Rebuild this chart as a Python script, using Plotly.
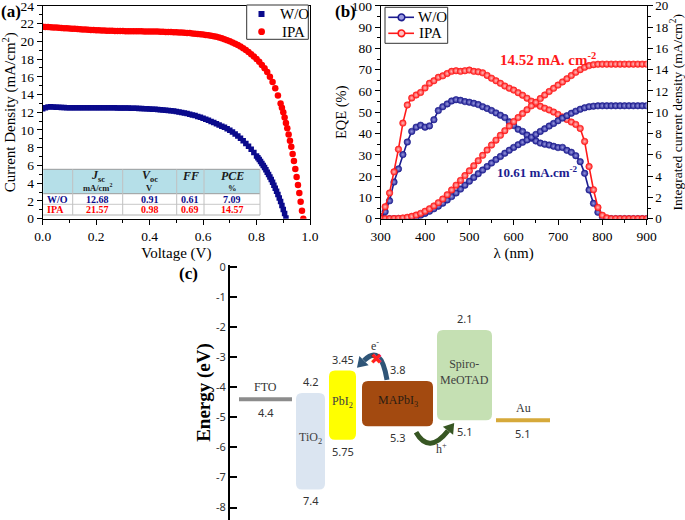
import math
import plotly.graph_objects as go

W, H = 685, 520


def px(x):
    return x / W


def py(y):
    return 1 - y / H


SERIF = "Liberation Serif"
SANS = "Noto Sans"

# ---------------- (a) J-V data ----------------
v_wo = [0.00, 0.01, 0.02, 0.03, 0.04, 0.05, 0.06, 0.07, 0.08, 0.09,
        0.10, 0.11, 0.12, 0.13, 0.14, 0.15, 0.16, 0.17, 0.18, 0.19,
        0.20, 0.21, 0.22, 0.23, 0.24, 0.25, 0.26, 0.27, 0.28, 0.29,
        0.30, 0.31, 0.32, 0.33, 0.34, 0.35, 0.36, 0.37, 0.38, 0.39,
        0.40, 0.41, 0.42, 0.43, 0.44, 0.45, 0.46, 0.47, 0.48, 0.49,
        0.50, 0.51, 0.52, 0.53, 0.54, 0.55, 0.56, 0.57, 0.58, 0.59,
        0.60, 0.61, 0.62, 0.63, 0.64, 0.65, 0.66, 0.67, 0.68, 0.69,
        0.70, 0.71, 0.72, 0.73, 0.74, 0.75, 0.76, 0.77, 0.78, 0.79,
        0.80, 0.805, 0.81, 0.815, 0.82, 0.825, 0.83, 0.835, 0.84, 0.845,
        0.85, 0.855, 0.86, 0.865, 0.87, 0.875, 0.88, 0.885, 0.89, 0.895,
        0.90, 0.905, 0.91]
j_wo = [12.40, 12.50, 12.58, 12.62, 12.60, 12.57, 12.55, 12.54, 12.53, 12.52,
        12.52, 12.52, 12.51, 12.51, 12.51, 12.50, 12.50, 12.50, 12.50, 12.50,
        12.50, 12.50, 12.50, 12.50, 12.50, 12.50, 12.50, 12.50, 12.49, 12.49,
        12.49, 12.48, 12.47, 12.46, 12.45, 12.44, 12.43, 12.42, 12.40, 12.39,
        12.37, 12.35, 12.33, 12.31, 12.29, 12.26, 12.23, 12.20, 12.17, 12.13,
        12.08, 12.03, 11.97, 11.91, 11.85, 11.78, 11.70, 11.62, 11.53, 11.43,
        11.33, 11.22, 11.10, 10.97, 10.84, 10.70, 10.56, 10.43, 10.30, 10.15,
        9.98, 9.78, 9.56, 9.32, 9.06, 8.78, 8.48, 8.16, 7.82, 7.46,
        7.08, 6.88, 6.67, 6.45, 6.23, 6.00, 5.76, 5.51, 5.25, 4.98,
        4.70, 4.41, 4.10, 3.78, 3.44, 3.09, 2.72, 2.33, 1.93, 1.50,
        1.05, 0.58, 0.08]

v_ipa = [0.00, 0.01, 0.02, 0.03, 0.04, 0.05, 0.06, 0.07, 0.08, 0.09,
         0.10, 0.11, 0.12, 0.13, 0.14, 0.15, 0.16, 0.17, 0.18, 0.19,
         0.20, 0.21, 0.22, 0.23, 0.24, 0.25, 0.26, 0.27, 0.28, 0.29,
         0.30, 0.31, 0.32, 0.33, 0.34, 0.35, 0.36, 0.37, 0.38, 0.39,
         0.40, 0.41, 0.42, 0.43, 0.44, 0.45, 0.46, 0.47, 0.48, 0.49,
         0.50, 0.51, 0.52, 0.53, 0.54, 0.55, 0.56, 0.57, 0.58, 0.59,
         0.60, 0.61, 0.62, 0.63, 0.64, 0.65, 0.66, 0.67, 0.68, 0.69,
         0.70, 0.71, 0.72, 0.73, 0.74, 0.75, 0.76, 0.77, 0.78, 0.79,
         0.80, 0.81, 0.82, 0.83, 0.84, 0.85, 0.86, 0.87, 0.88, 0.89,
         0.895, 0.900, 0.905, 0.910, 0.915, 0.920, 0.925, 0.930, 0.935,
         0.940, 0.945, 0.950, 0.955, 0.960, 0.965, 0.970, 0.975]
j_ipa = [21.64, 21.62, 21.60, 21.58, 21.56, 21.54, 21.52, 21.50, 21.48, 21.46,
         21.44, 21.42, 21.40, 21.38, 21.36, 21.34, 21.32, 21.30, 21.28, 21.27,
         21.25, 21.24, 21.22, 21.21, 21.20, 21.19, 21.18, 21.17, 21.16, 21.15,
         21.15, 21.14, 21.14, 21.13, 21.13, 21.12, 21.12, 21.12, 21.11, 21.11,
         21.10, 21.10, 21.09, 21.09, 21.08, 21.07, 21.06, 21.05, 21.04, 21.03,
         21.02, 21.00, 20.98, 20.96, 20.94, 20.92, 20.89, 20.86, 20.83, 20.80,
         20.76, 20.72, 20.68, 20.63, 20.57, 20.50, 20.42, 20.33, 20.23, 20.12,
         20.00, 19.87, 19.73, 19.57, 19.40, 19.21, 19.01, 18.79, 18.55, 18.29,
         18.00, 17.68, 17.33, 16.95, 16.53, 16.00, 15.40, 14.70, 13.90, 13.00,
         12.50, 12.00, 11.40, 10.80, 10.20, 9.50, 8.80, 8.10, 7.30,
         6.50, 5.60, 4.70, 3.80, 2.90, 1.90, 0.90, 0.00]

# table of photovoltaic parameters
tab_params = ["<i>J</i><sub>sc</sub>", "<i>V</i><sub>oc</sub>", "<i>FF</i>", "<i>PCE</i>"]
tab_units = ["mA/cm<sup>2</sup>", "V", "", "%"]
tab_rows = ["W/O", "IPA"]
tab_wo = ["12.68", "0.91", "0.61", "7.09"]
tab_ipa = ["21.57", "0.98", "0.69", "14.57"]

# ---------------- (b) EQE data ----------------
wl = [300, 310, 320, 330, 340, 350, 360, 370, 380, 390,
      400, 410, 420, 430, 440, 450, 460, 470, 480, 490,
      500, 510, 520, 530, 540, 550, 560, 570, 580, 590,
      600, 610, 620, 630, 640, 650, 660, 670, 680, 690,
      700, 710, 720, 730, 740, 750, 760, 770, 780, 790,
      800, 810, 820, 830, 840, 850, 860, 870, 880, 890, 900]
eqe_wo = [1.0, 3.3, 8.4, 17.2, 23.4, 30.1, 36.0, 41.0, 43.0, 43.9,
          43.0, 43.6, 46.5, 50.8, 52.6, 53.9, 55.3, 55.9, 55.6, 55.0,
          54.7, 54.2, 53.6, 52.6, 51.8, 50.8, 49.7, 48.6, 47.5, 45.5,
          43.8, 42.0, 41.0, 39.3, 37.8, 36.5, 35.5, 35.0, 34.6, 34.0,
          33.4, 33.5, 32.1, 31.2, 29.6, 26.8, 21.3, 13.5, 7.2, 3.0,
          0.8, 0.1, 0.0, 0.0, 0.0, 0.0, 0.0, 0.0, 0.0, 0.0, 0.0]
eqe_ipa = [0.5, 5.6, 12.1, 22.0, 32.6, 44.9, 53.4, 56.7, 58.1, 59.3,
           61.4, 63.6, 64.8, 66.4, 67.1, 68.2, 69.2, 69.5, 69.2, 69.5,
           69.8, 69.2, 69.0, 68.5, 67.3, 66.0, 64.8, 63.6, 62.3, 61.3,
           60.4, 59.2, 58.0, 56.6, 55.2, 53.9, 52.8, 51.9, 51.1, 50.1,
           49.0, 47.8, 46.6, 45.4, 44.3, 42.4, 36.3, 24.5, 13.6, 5.3,
           1.6, 0.4, 0.0, 0.0, 0.0, 0.0, 0.0, 0.0, 0.0, 0.0, 0.0]
jint_wo = [0.0, 0.0, 0.0, 0.0, 0.0, 0.0, 0.01, 0.06, 0.17, 0.32,
           0.50, 0.70, 0.93, 1.18, 1.46, 1.76, 2.08, 2.42, 2.78, 3.15,
           3.52, 3.88, 4.23, 4.57, 4.90, 5.23, 5.55, 5.85, 6.15, 6.43,
           6.70, 6.95, 7.18, 7.40, 7.66, 7.92, 8.20, 8.45, 8.70, 8.95,
           9.20, 9.45, 9.68, 9.90, 10.10, 10.28, 10.42, 10.52, 10.57, 10.60,
           10.61, 10.61, 10.61, 10.61, 10.61, 10.61, 10.61, 10.61, 10.61, 10.61, 10.61]
jint_ipa = [0.0, 0.0, 0.0, 0.01, 0.03, 0.07, 0.13, 0.22, 0.34, 0.50,
            0.70, 0.93, 1.20, 1.50, 1.85, 2.25, 2.70, 3.15, 3.60, 4.05,
            4.50, 4.97, 5.45, 5.95, 6.45, 6.92, 7.38, 7.83, 8.27, 8.70,
            9.12, 9.50, 9.88, 10.24, 10.60, 10.93, 11.28, 11.62, 11.95, 12.25,
            12.55, 12.85, 13.15, 13.45, 13.75, 14.00, 14.22, 14.38, 14.47, 14.51,
            14.52, 14.52, 14.52, 14.52, 14.52, 14.52, 14.52, 14.52, 14.52, 14.52, 14.52]
jint_label_ipa = "14.52 mA. cm<sup>-2</sup>"
jint_label_wo = "10.61 mA.cm<sup>-2</sup>"
series_names = ["W/O", "IPA"]

# ---------------- (c) energy levels (eV below vacuum) ----------------
layers = ["FTO", "TiO<sub>2</sub>", "PbI<sub>2</sub>", "MAPbI<sub>3</sub>", "Spiro-<br>MeOTAD", "Au"]
level_top = [4.4, 4.2, 3.45, 3.8, 2.1, 5.1]
level_bot = [4.4, 7.4, 5.75, 5.3, 5.1, 5.1]
is_electrode = [True, False, False, False, False, True]
energy_ticks = [0, -1, -2, -3, -4, -5, -6, -7, -8]
energy_ticktext = ["0", "-1", "-2", "-3", "-4", "-5", "-6", "-7", "-8"]

# layout-only positions / styles for diagram (c)
blk_x0 = [9, 66, 99, 132, 207, 266]
blk_x1 = [62, 95, 126, 203, 262, 320]
blk_color = ["#8c8c8c", "#dbe5f1", "#ffff00", "#a34a10", "#c5e0b3", "#d6a93a"]
blk_text_color = ["#333333", "#404040", "#404040", "#2b1d12", "#404040", "#333333"]

BLUE_A = "#0a0a8c"
RED_A = "#ff0000"
BLUE_B = "#1c1c8f"
RED_B = "#ff1a1a"
BLUE_C = "#9a9ae0"
RED_C = "#ffc0c0"

fig = go.Figure()

# ---- (a) traces
fig.add_trace(go.Scatter(x=v_wo, y=j_wo, mode="markers", name=series_names[0], showlegend=False,
                         marker=dict(symbol="square", size=5.5, color=BLUE_A),
                         xaxis="x", yaxis="y"))
fig.add_trace(go.Scatter(x=v_ipa, y=j_ipa, mode="markers", name=series_names[1], showlegend=False,
                         marker=dict(symbol="circle", size=6.5, color=RED_A),
                         xaxis="x", yaxis="y"))


# ---- (b) traces
def mk(color, center):
    return dict(symbol="circle", size=6.5, color=color,
                gradient=dict(type="radial", color=center),
                line=dict(width=0.6, color=color))


fig.add_trace(go.Scatter(x=wl, y=eqe_wo, mode="lines+markers", name=series_names[0], showlegend=False,
                         line=dict(color=BLUE_B, width=1.6), marker=mk(BLUE_B, BLUE_C),
                         xaxis="x2", yaxis="y2"))
fig.add_trace(go.Scatter(x=wl, y=eqe_ipa, mode="lines+markers", name=series_names[1], showlegend=False,
                         line=dict(color=RED_B, width=1.6), marker=mk(RED_B, RED_C),
                         xaxis="x2", yaxis="y2"))
fig.add_trace(go.Scatter(x=wl, y=jint_wo, mode="lines+markers", name=series_names[0], showlegend=False,
                         line=dict(color=BLUE_B, width=1.6), marker=mk(BLUE_B, BLUE_C),
                         xaxis="x2", yaxis="y3"))
fig.add_trace(go.Scatter(x=wl, y=jint_ipa, mode="lines+markers", name=series_names[1], showlegend=False,
                         line=dict(color=RED_B, width=1.6), marker=mk(RED_B, RED_C),
                         xaxis="x2", yaxis="y3"))

tickfont = dict(family=SERIF, size=13.5, color="black")
titlefont = dict(family=SERIF, size=15, color="black")
base = dict(showline=True, linecolor="black", linewidth=1, ticks="outside", ticklen=5,
            tickwidth=1, tickcolor="black", showgrid=False, zeroline=False, tickfont=tickfont,
            automargin=False, ticklabeloverflow="allow")

shapes = []
annotations = []


def note(x, y, text, font, xanchor="center", yanchor="middle", xref="paper", yref="paper", **kw):
    annotations.append(dict(xref=xref, yref=yref, x=x, y=y, text=text, showarrow=False,
                            xanchor=xanchor, yanchor=yanchor, font=font, **kw))


# ---- (a) table drawn from table arrays
tc = [43.3, 72.7, 122.7, 176.7, 204, 260]
tr = [169.3, 181.5, 193.7, 204.3, 215]
shapes.append(dict(type="rect", xref="paper", yref="paper", x0=px(tc[0]), x1=px(tc[-1]),
                   y0=py(tr[2]), y1=py(tr[0]), fillcolor="#b5dfe8", line=dict(width=0), layer="above"))
shapes.append(dict(type="rect", xref="paper", yref="paper", x0=px(tc[0]), x1=px(tc[-1]),
                   y0=py(tr[4]), y1=py(tr[2]), fillcolor="white", line=dict(width=0), layer="above"))
for yy, col in [(tr[0], "#9a9a9a"), (tr[2], "#9a9a9a"), (tr[3], "#c8c8c8"), (tr[4], "#b0b0b0")]:
    shapes.append(dict(type="line", xref="paper", yref="paper", x0=px(tc[0]), x1=px(tc[-1]),
                       y0=py(yy), y1=py(yy), line=dict(color=col, width=1), layer="above"))
for xx in tc[1:]:
    shapes.append(dict(type="line", xref="paper", yref="paper", x0=px(xx), x1=px(xx),
                       y0=py(tr[4]), y1=py(tr[0]), line=dict(color="#c0c0c0", width=1), layer="above"))

for i in range(4):
    xc = (tc[i + 1] + tc[i + 2]) / 2
    note(px(xc), py(175.5), "<b>" + tab_params[i] + "</b>", dict(family=SERIF, size=12, color="#1a1a1a"))
    if tab_units[i]:
        note(px(xc), py(187.5), "<b>" + tab_units[i] + "</b>", dict(family=SERIF, size=8.5, color="#1a1a1a"))
    note(px(xc), py(199), "<b>" + tab_wo[i] + "</b>", dict(family=SERIF, size=10, color=BLUE_A))
    note(px(xc), py(209.7), "<b>" + tab_ipa[i] + "</b>", dict(family=SERIF, size=10, color=RED_A))
note(px(44.5), py(199), "<b>" + tab_rows[0] + "</b>", dict(family=SERIF, size=10, color=BLUE_A), xanchor="left")
note(px(44.5), py(209.7), "<b>" + tab_rows[1] + "</b>", dict(family=SERIF, size=10, color=RED_A), xanchor="left")

# ---- (a) legend (manual)
shapes.append(dict(type="rect", xref="paper", yref="paper", x0=px(246.7), x1=px(308.3), y0=py(39.3), y1=py(5),
                   fillcolor="white", line=dict(color="#333333", width=1)))
shapes.append(dict(type="rect", xref="paper", yref="paper", x0=px(258.5), x1=px(264.5), y0=py(17), y1=py(11),
                   fillcolor=BLUE_A, line=dict(width=0)))
shapes.append(dict(type="circle", xref="paper", yref="paper", x0=px(258.2), x1=px(265.0), y0=py(35.1), y1=py(28.3),
                   fillcolor=RED_A, line=dict(width=0)))
note(px(278), py(14), series_names[0], dict(family=SERIF, size=15, color="black"), xanchor="left")
note(px(280), py(31.7), series_names[1], dict(family=SERIF, size=15, color="black"), xanchor="left")

# ---- (b) legend (manual)
shapes.append(dict(type="rect", xref="paper", yref="paper", x0=px(385), x1=px(447.7), y0=py(43.3), y1=py(7.3),
                   fillcolor="white", line=dict(color="#333333", width=1)))
for yy, colr, ccol in [(17.3, BLUE_B, BLUE_C), (33.3, RED_B, RED_C)]:
    shapes.append(dict(type="line", xref="paper", yref="paper", x0=px(388.3), x1=px(414), y0=py(yy), y1=py(yy),
                       line=dict(color=colr, width=1.6)))
    shapes.append(dict(type="circle", xref="paper", yref="paper", x0=px(398.2), x1=px(404.8),
                       y0=py(yy + 3.3), y1=py(yy - 3.3), fillcolor=ccol, line=dict(color=colr, width=1.6)))
note(px(416), py(17.3), series_names[0], dict(family=SERIF, size=15, color="black"), xanchor="left")
note(px(416.5), py(33.3), series_names[1], dict(family=SERIF, size=15, color="black"), xanchor="left")

# ---- (b) annotations
note(px(548), py(59), "<b>" + jint_label_ipa + "</b>", dict(family=SERIF, size=15, color=RED_B))
note(px(537), py(172), "<b>" + jint_label_wo + "</b>", dict(family=SERIF, size=13, color=BLUE_B))

# panel labels
for lab, xx, yy in [("(a)", 11, 11), ("(b)", 345, 11), ("(c)", 188, 273)]:
    note(px(xx), py(yy), "<b>" + lab + "</b>", dict(family=SERIF, size=17, color="black"))

# ---- (c) energy diagram
K = 30.1  # px per eV on yaxis4
R = 6


def rrect(x0, x1, ytop, ybot, r=R):
    ry = r / K
    return (f"M {x0 + r},{ytop} L {x1 - r},{ytop} Q {x1},{ytop} {x1},{ytop - ry} "
            f"L {x1},{ybot + ry} Q {x1},{ybot} {x1 - r},{ybot} L {x0 + r},{ybot} "
            f"Q {x0},{ybot} {x0},{ybot + ry} L {x0},{ytop - ry} Q {x0},{ytop} {x0 + r},{ytop} Z")


num_font = dict(family=SANS, size=11, color="#333333")
name_font = dict(family=SERIF, size=12, color="#333333")
for i, name in enumerate(layers):
    x0, x1 = blk_x0[i], blk_x1[i]
    xc = (x0 + x1) / 2
    top, bot = -level_top[i], -level_bot[i]
    if is_electrode[i]:
        shapes.append(dict(type="line", xref="x3", yref="y4", x0=x0, x1=x1, y0=top, y1=top,
                           line=dict(color=blk_color[i], width=4)))
        note(xc, top, name, name_font, yanchor="bottom", xref="x3", yref="y4", yshift=3)
        note(xc, top, f"{level_top[i]:g}", num_font, yanchor="top", xref="x3", yref="y4", yshift=-4)
    else:
        shapes.append(dict(type="path", xref="x3", yref="y4", path=rrect(x0, x1, top, bot),
                           fillcolor=blk_color[i], line=dict(width=0)))
        note(xc, (top + bot) / 2, name, dict(family=SERIF, size=12, color=blk_text_color[i]),
             xref="x3", yref="y4", yshift=3)
        note(xc, top, f"{level_top[i]:g}", num_font, yanchor="bottom", xref="x3", yref="y4", yshift=2)
        note(xc, bot, f"{level_bot[i]:g}", num_font, yanchor="top", xref="x3", yref="y4", yshift=-2)


def curved_arrow(S, C, E, color, lw=5, hw=13, hl=10):
    shapes.append(dict(type="path", xref="x3", yref="y4",
                       path=f"M {S[0]},{S[1]} Q {C[0]},{C[1]} {E[0]},{E[1]}",
                       line=dict(color=color, width=lw)))
    dx = E[0] - C[0]
    dy = (E[1] - C[1]) * K
    n = math.hypot(dx, dy)
    ux, uy = dx / n, dy / n
    vx, vy = -uy, ux
    tip = (E[0] + ux * hl, E[1] + uy * hl / K)
    b1 = (E[0] + vx * hw / 2, E[1] + vy * hw / 2 / K)
    b2 = (E[0] - vx * hw / 2, E[1] - vy * hw / 2 / K)
    shapes.append(dict(type="path", xref="x3", yref="y4",
                       path=f"M {tip[0]},{tip[1]} L {b1[0]},{b1[1]} L {b2[0]},{b2[1]} Z",
                       fillcolor=color, line=dict(width=0)))


curved_arrow((157, -3.76), (151, -2.55), (134, -3.12), "#2f5577")
curved_arrow((186, -5.5), (199, -6.25), (218, -5.45), "#375623")
note(146.7, -3.08, "✖", dict(family="DejaVu Sans", size=15, color="#ff2020"), xref="x3", yref="y4")
note(145, -2.62, "e<sup>-</sup>", dict(family=SERIF, size=12, color="#333333"), xref="x3", yref="y4")
note(211.7, -6.05, "h<sup>+</sup>", dict(family=SERIF, size=12, color="#333333"), xref="x3", yref="y4")

dom_y_ab = [py(218.7), py(5.8)]
minor_style = dict(ticks="outside", ticklen=3, tickcolor="black")

fig.update_layout(
    width=W, height=H, margin=dict(l=0, r=0, t=0, b=0, autoexpand=False),
    paper_bgcolor="white", plot_bgcolor="white", showlegend=False,
    font=dict(family=SERIF, color="black"),
    xaxis=dict(base, domain=[px(42.7), px(310)], range=[0, 1], anchor="y", mirror=True,
               tickvals=[0, 0.2, 0.4, 0.6, 0.8, 1.0], ticktext=["0.0", "0.2", "0.4", "0.6", "0.8", "1.0"],
               minor=dict(minor_style, dtick=0.1, tick0=0),
               title=dict(text="Voltage (V)", font=titlefont, standoff=4)),
    yaxis=dict(base, domain=dom_y_ab, range=[0, 24], anchor="x", mirror=True, dtick=2, tick0=0,
               minor=dict(minor_style, dtick=1, tick0=0),
               title=dict(text="Current Density (mA/cm<sup>2</sup>)", font=titlefont, standoff=2)),
    xaxis2=dict(base, domain=[px(380.7), px(646.7)], range=[300, 900], anchor="y2", mirror=True,
                dtick=100, tick0=300,
                minor=dict(minor_style, dtick=50, tick0=300),
                title=dict(text="λ (nm)", font=titlefont, standoff=4)),
    yaxis2=dict(base, domain=dom_y_ab, range=[0, 100], anchor="x2", dtick=10, tick0=0,
                minor=dict(minor_style, dtick=5, tick0=0),
                title=dict(text="EQE (%)", font=dict(family=SERIF, size=14.5, color="black"), standoff=1)),
    yaxis3=dict(base, overlaying="y2", side="right", range=[0, 20], anchor="x2", dtick=2, tick0=0,
                tickfont=dict(family=SERIF, size=13, color="black"),
                minor=dict(minor_style, dtick=1, tick0=0),
                title=dict(text="Integrated current density (mA/cm<sup>2</sup>)",
                           font=dict(family=SERIF, size=13.5, color="black"), standoff=0)),
    xaxis3=dict(domain=[px(230), px(560)], range=[0, 330], visible=False, anchor="y4",
                fixedrange=True, automargin=False),
    yaxis4=dict(domain=[0, py(265)], range=[-8.415, 0.056], anchor="x3", showline=True,
                linecolor="black", linewidth=2, ticks="inside", ticklen=7, tickwidth=2,
                tickcolor="black", showgrid=False, zeroline=False, automargin=False,
                ticklabeloverflow="allow",
                tickvals=energy_ticks, ticktext=energy_ticktext,
                tickfont=dict(family=SANS, size=11, color="#333333"),
                title=dict(text="<b>Energy (eV)</b>", font=dict(family=SERIF, size=19, color="black"),
                           standoff=0)),
    shapes=shapes, annotations=annotations,
)

fig.write_html("out.html", config={"displayModeBar": False, "staticPlot": True},
               post_script="document.body.style.margin='0';document.body.style.padding='0';")
